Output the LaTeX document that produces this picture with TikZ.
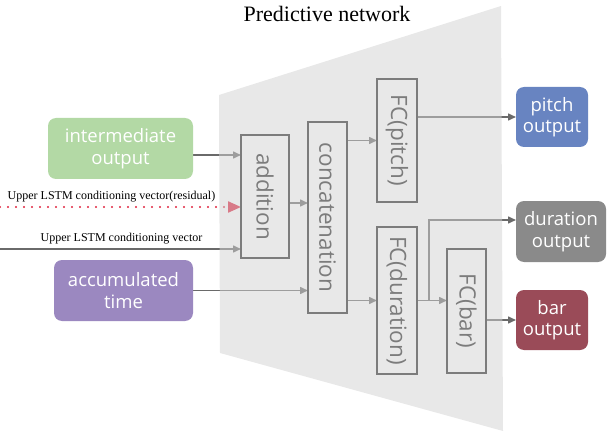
\documentclass[tikz,border=0pt]{standalone}
\usepackage{fontspec}
\setmainfont{Liberation Serif}
\newfontfamily\boxfont{Open Sans}
\usetikzlibrary{positioning, arrows.meta}
\definecolor{netfill}{HTML}{D1D1D1}
\definecolor{linegray}{HTML}{6A6A6A}
\definecolor{framegray}{HTML}{7C7C7C}
\definecolor{resred}{HTML}{E0243F}
\definecolor{greenbox}{HTML}{B3D9A5}
\definecolor{purplebox}{HTML}{9B88C0}
\definecolor{bluebox}{HTML}{6884C1}
\definecolor{graybox}{HTML}{8A8A8A}
\definecolor{redbox}{HTML}{9A4B58}
\pgfdeclarelayer{arrowlayer}
\pgfdeclarelayer{netlayer}
\pgfsetlayers{arrowlayer,netlayer,main}
\tikzset{
    ioblock/.style={rounded corners=8pt, inner sep=0pt, outer sep=0pt, align=center,
        text=white, font=\boxfont\fontsize{18.5}{21.5}\selectfont},
    layer/.style={draw=framegray, line width=1.6pt, inner sep=0pt, outer sep=0pt,
        text=framegray, font=\boxfont\fontsize{22.5}{24}\selectfont},
    arr/.style={draw=linegray, line width=1.5pt, -{Triangle[length=8pt,width=7pt]}},
    resarr/.style={draw=resred, line width=2.2pt, line cap=round, dash pattern=on 0pt off 8pt,
        -{Triangle[length=13pt,width=11pt]}},
    lbl/.style={font=\fontsize{12}{14}\selectfont, inner sep=0pt}
}
\begin{document}
\begin{tikzpicture}[x=1pt, y=-1pt]
                \useasboundingbox (0,0) rectangle (608,433);
                \node (title) at (327,14) {\fontsize{22}{24}\selectfont Predictive network};
                \node[ioblock, fill=greenbox, minimum width=145pt, minimum height=61pt] (interm) at (120.5,148.5) {intermediate\\output};
                \node[ioblock, fill=purplebox, minimum width=139pt, minimum height=61pt] (acctime) at (123.5,290.5) {accumulated\\time};
                \node[layer, minimum width=48pt, minimum height=123pt] (addition) at (265,196.5) {\rotatebox[origin=c]{-90}{addition}};
                \node[layer, minimum width=39pt, minimum height=191pt] (concat) at (327.5,217.5) {\rotatebox[origin=c]{-90}{concatenation}};
                \node[layer, minimum width=40pt, minimum height=123pt] (fcpitch) at (397,140.5) {\rotatebox[origin=c]{-90}{FC(pitch)}};
                \node[layer, minimum width=40pt, minimum height=147pt, below=25pt of fcpitch] (fcdur) {\rotatebox[origin=c]{-90}{FC(duration)}};
                \node[layer, minimum width=39pt, minimum height=124pt] (fcbar) at (466.5,311) {\rotatebox[origin=c]{-90}{FC(bar)}};
                \node[ioblock, fill=bluebox, minimum width=72pt, minimum height=60pt] (pitchout) at (552,117) {pitch\\output};
                \node[ioblock, fill=graybox, minimum width=90pt, minimum height=61pt] (durout) at (561,231.5) {duration\\output};
                \node[ioblock, fill=redbox, minimum width=72pt, minimum height=60pt] (barout) at (552,320) {bar\\output};
                \coordinate (resstart) at (0,207);
                \coordinate (condstart) at (0,249);
                \node[lbl] (reslabel) at (111.5,197) {Upper LSTM conditioning vector(residual)};
                \node[lbl] (condlabel) at (121.5,239) {Upper LSTM conditioning vector};
                \begin{pgfonlayer}{netlayer}
                    \fill[netfill, fill opacity=0.5] (219,95) -- (501,6) -- (503,431) -- (220,353) -- cycle;
                \end{pgfonlayer}
                \begin{pgfonlayer}{arrowlayer}
                    \draw[arr] ([yshift=-6.5pt]interm.east) -- ([yshift=-6.5pt]interm.east -| addition.west);
                    \draw[resarr] (resstart) -- (resstart -| addition.west);
                    \draw[arr] (condstart) -- (condstart -| addition.west);
                    \draw[arr] (acctime.east) -- (acctime.east -| concat.west);
                    \draw[arr] ([yshift=-6.5pt]addition.east) -- ([yshift=-6.5pt]addition.east -| concat.west);
                    \draw[arr] (concat.east |- fcpitch.west) -- (fcpitch.west);
                    \draw[arr] (concat.east |- fcdur.west) -- (fcdur.west);
                    \draw[arr] (fcpitch.east |- pitchout.west) -- (pitchout.west);
                    \draw[arr] (fcdur.east) -- (fcdur.east -| fcbar.west);
                    \coordinate (split) at ([xshift=12pt]fcdur.east);
                    \draw[arr] (split) |- ([yshift=11.5pt]durout.west);
                    \draw[arr] (fcbar.east |- barout.west) -- (barout.west);
                \end{pgfonlayer}
\end{tikzpicture}
\end{document}
